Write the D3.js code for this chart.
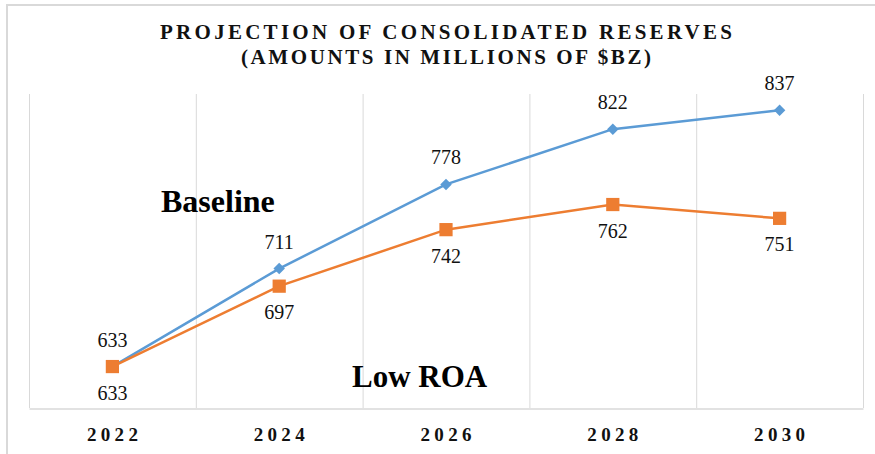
<!DOCTYPE html>
<html>
<head>
<meta charset="utf-8">
<script src="https://cdn.jsdelivr.net/npm/d3@7"></script>
<style>
  body { margin: 0; background: #fff; }
  svg { display: block; font-family: "Liberation Serif", "Times New Roman", serif; }
</style>
</head>
<body>
<div id="chart"></div>
<script>
const years = ["2022", "2024", "2026", "2028", "2030"];
const baseline = [633, 711, 778, 822, 837];
const lowRoa = [633, 697, 742, 762, 751];
const titleLines = ["PROJECTION OF CONSOLIDATED RESERVES", "(AMOUNTS IN MILLIONS OF $BZ)"];

const width = 875;
const height = 454;
const plot = { left: 29, right: 863, top: 94, bottom: 408 };

const blue = "#5B9BD5";
const orange = "#ED7D31";
const grid = "#d9d9d9";

const svg = d3.select("#chart").append("svg")
  .attr("width", width)
  .attr("height", height);

// outer frame (top and left edges visible)
svg.append("line").attr("x1", 6).attr("x2", width).attr("y1", 5).attr("y2", 5)
  .attr("stroke", grid).attr("stroke-width", 2);
svg.append("line").attr("x1", 7).attr("x2", 7).attr("y1", 4).attr("y2", height)
  .attr("stroke", grid).attr("stroke-width", 2);

// title
const titleWidths = [572, 410];
svg.append("g").selectAll("text")
  .data(titleLines)
  .join("text")
  .attr("x", (plot.left + plot.right) / 2)
  .attr("y", (d, i) => 39 + i * 25)
  .attr("text-anchor", "middle")
  .attr("font-size", 21)
  .attr("font-weight", "bold")
  .attr("fill", "#111")
  .attr("textLength", (d, i) => titleWidths[i])
  .attr("lengthAdjust", "spacing")
  .text((d) => d);

const x = d3.scaleBand().domain(years).range([plot.left, plot.right]).padding(0);
const cx = (d) => x(d) + x.bandwidth() / 2;
const y = d3.scaleLinear().domain([600, 850]).range([plot.bottom, plot.top]);

// vertical gridlines at category boundaries
const edges = years.map((d) => x(d)).concat([plot.right]);
svg.append("g").selectAll("line")
  .data(edges)
  .join("line")
  .attr("x1", (d) => d + 0.5).attr("x2", (d) => d + 0.5)
  .attr("y1", plot.top).attr("y2", plot.bottom)
  .attr("stroke", grid).attr("stroke-width", 1);

// x axis
const xAxis = svg.append("g")
  .attr("transform", `translate(0,${plot.bottom + 0.5})`)
  .call(d3.axisBottom(x).tickSize(0).tickPadding(19));
xAxis.select(".domain").attr("stroke", grid).attr("stroke-width", 1.5);
xAxis.selectAll("text")
  .attr("font-family", "Liberation Serif, serif")
  .attr("font-size", 19)
  .attr("font-weight", "bold")
  .attr("fill", "#111")
  .attr("textLength", 51)
  .attr("lengthAdjust", "spacing");

const line = d3.line().x((d, i) => cx(years[i])).y((d) => y(d));

function drawSeries(values, color, symbol, size, rotate, labelDy) {
  const g = svg.append("g");
  g.append("path")
    .datum(values)
    .attr("d", line)
    .attr("fill", "none")
    .attr("stroke", color)
    .attr("stroke-width", 2.5);
  g.selectAll("path.marker")
    .data(values)
    .join("path")
    .attr("class", "marker")
    .attr("d", d3.symbol(symbol, size))
    .attr("transform", (d, i) => `translate(${cx(years[i])},${y(d)}) rotate(${rotate})`)
    .attr("fill", color);
  g.selectAll("text")
    .data(values)
    .join("text")
    .attr("x", (d, i) => cx(years[i]))
    .attr("y", (d) => y(d) + labelDy)
    .attr("text-anchor", "middle")
    .attr("font-size", 20)
    .attr("fill", "#111")
    .text((d) => d);
}

drawSeries(baseline, blue, d3.symbolSquare, 66, 45, -20);
drawSeries(lowRoa, orange, d3.symbolSquare, 175, 0, 33);

// series names placed inside the plot
svg.append("text")
  .attr("x", 161).attr("y", 212)
  .attr("font-size", 32).attr("font-weight", "bold").attr("fill", "#000")
  .text("Baseline");
svg.append("text")
  .attr("x", 352).attr("y", 387)
  .attr("font-size", 31).attr("font-weight", "bold").attr("fill", "#000")
  .text("Low ROA");
</script>
</body>
</html>
